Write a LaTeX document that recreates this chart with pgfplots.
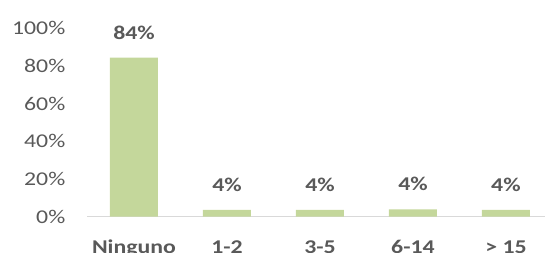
\documentclass[border=0pt]{standalone}
\usepackage{fontspec}
\setmainfont{Carlito}
\usepackage{pgfplots}
\pgfplotsset{compat=1.18}
\definecolor{barc}{HTML}{C4D79B}
\definecolor{txt}{HTML}{595959}
\definecolor{axl}{HTML}{D9D9D9}
\newfontfamily\labfont{Carlito}[FakeStretch=1.22]
\begin{document}
\begin{tikzpicture}
\useasboundingbox (-87.5bp,-36.3bp) rectangle (458.5bp,216.7bp);
\begin{axis}[
  at={(0,0)}, anchor=south west,
  scale only axis, width=457.5bp, height=188.4bp,
  xmin=-0.5, xmax=4.42, ymin=0, ymax=100,
  axis x line*=bottom, axis y line*=left,
  y axis line style={draw=none},
  x axis line style={draw=axl, line width=1bp, -},
  tick style={draw=none},
  ytick={0,20,40,60,80,100},
  yticklabel={\labfont\fontsize{19.5bp}{23bp}\selectfont\pgfmathprintnumber[assume math mode=true]{\tick}\%},
  yticklabel style={text=txt, anchor=east, inner sep=0pt, xshift=-22bp},
  xtick=data,
  xticklabels={Ninguno,1-2,3-5,6-14,> 15},
  xticklabel style={text=txt, font=\labfont\fontsize{19.5bp}{23bp}\selectfont\bfseries, anchor=base, inner sep=0pt, yshift=-33bp},
  ybar, bar width=48bp,
  point meta=explicit symbolic,
  nodes near coords,
  nodes near coords style={text=txt, font=\labfont\fontsize{19.5bp}{23bp}\selectfont\bfseries, anchor=base, inner sep=0pt, yshift=18.5bp},
]
\addplot[fill=barc, draw=none] coordinates {
  (0,84.5) [84\%]
  (1,3.6) [4\%]
  (2,3.6) [4\%]
  (3,3.9) [4\%]
  (4,3.6) [4\%]
};
\end{axis}
\end{tikzpicture}
\end{document}
